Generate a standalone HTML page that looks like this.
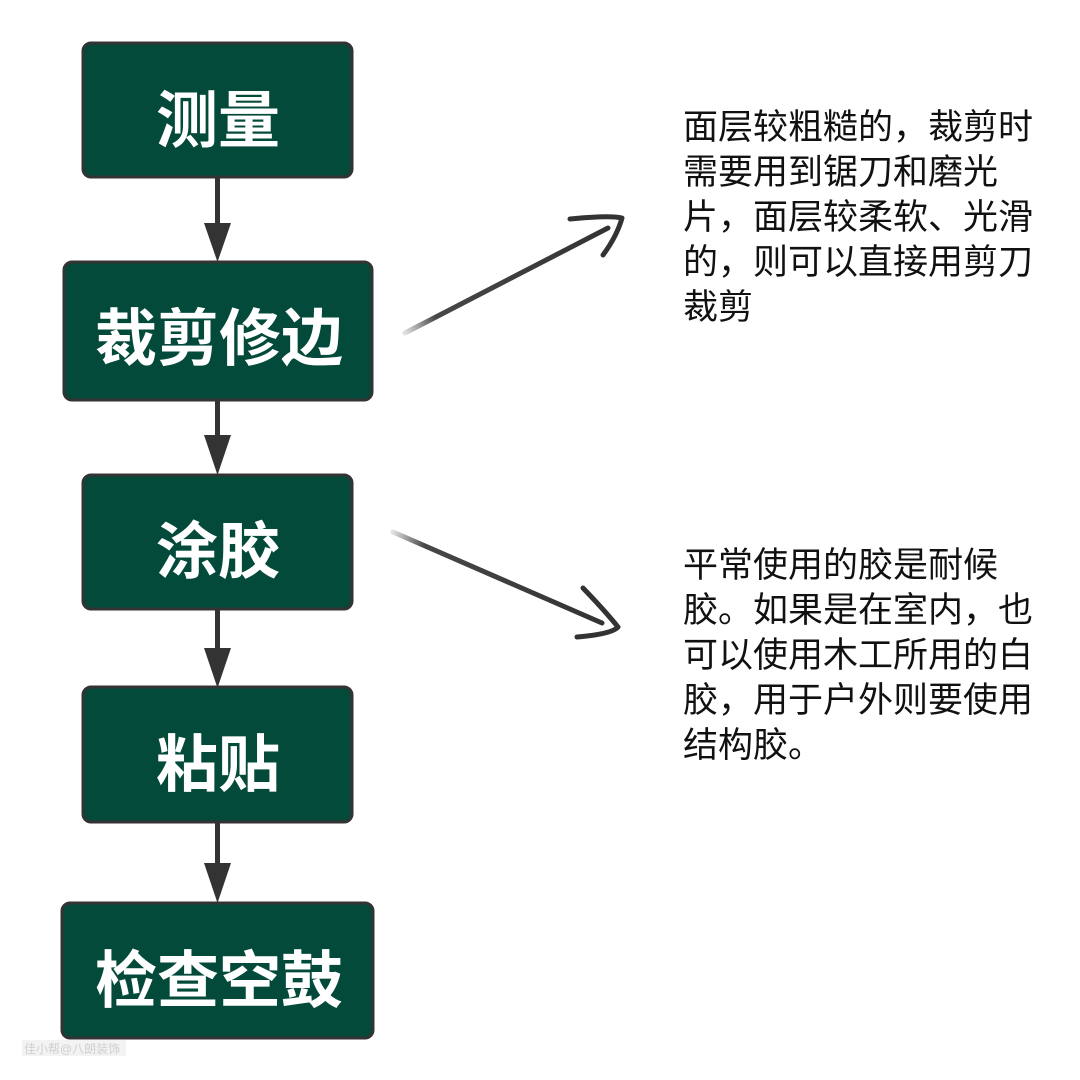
<!DOCTYPE html>
<html>
<head>
<meta charset="utf-8">
<style>
  html,body{margin:0;padding:0;background:#fff;}
  body{width:1080px;height:1080px;overflow:hidden;}
  svg{display:block;}
  .bx{fill:#034a3b;stroke:#333;stroke-width:3;}
  .bt{font-family:"Liberation Sans","Noto Sans CJK SC",sans-serif;font-weight:bold;font-size:62px;fill:#fff;text-anchor:middle;}
  .nt{font-family:"Liberation Sans","Noto Sans CJK SC",sans-serif;font-size:35px;fill:#111;}
</style>
</head>
<body>
<svg width="1080" height="1080" viewBox="0 0 1080 1080" xmlns="http://www.w3.org/2000/svg">
  <defs>
    <linearGradient id="g1" gradientUnits="userSpaceOnUse" x1="405" y1="333" x2="608" y2="228">
      <stop offset="0" stop-color="#333" stop-opacity="0.15"/>
      <stop offset="0.15" stop-color="#333" stop-opacity="0.9"/>
      <stop offset="1" stop-color="#333" stop-opacity="1"/>
    </linearGradient>
    <linearGradient id="g2" gradientUnits="userSpaceOnUse" x1="393" y1="532" x2="602" y2="623">
      <stop offset="0" stop-color="#333" stop-opacity="0.15"/>
      <stop offset="0.15" stop-color="#333" stop-opacity="0.9"/>
      <stop offset="1" stop-color="#333" stop-opacity="1"/>
    </linearGradient>
  </defs>

  <!-- vertical connectors -->
  <g stroke="#333" stroke-width="5">
    <line x1="217.5" y1="177" x2="217.5" y2="226"/>
    <line x1="217.5" y1="400" x2="217.5" y2="438"/>
    <line x1="217.5" y1="609" x2="217.5" y2="651"/>
    <line x1="217.5" y1="822" x2="217.5" y2="866"/>
  </g>
  <g fill="#333">
    <polygon points="204,223 231,223 217.5,262"/>
    <polygon points="204,435 231,435 217.5,475"/>
    <polygon points="204,648 231,648 217.5,688"/>
    <polygon points="204,863 231,863 217.5,903"/>
  </g>

  <!-- boxes -->
  <rect class="bx" x="83" y="43" width="269" height="134" rx="8"/>
  <rect class="bx" x="64" y="262" width="308" height="138" rx="8"/>
  <rect class="bx" x="83" y="475" width="269" height="134" rx="8"/>
  <rect class="bx" x="83" y="687" width="269" height="135" rx="8"/>
  <rect class="bx" x="62" y="903" width="311" height="135" rx="8"/>

  <text class="bt" x="218" y="142">测量</text>
  <text class="bt" x="219" y="360">裁剪修边</text>
  <text class="bt" x="218" y="573">涂胶</text>
  <text class="bt" x="218" y="786">粘贴</text>
  <text class="bt" x="219" y="1002">检查空鼓</text>

  <!-- diagonal hand-drawn arrows -->
  <line x1="405" y1="333" x2="608" y2="228" stroke="url(#g1)" stroke-width="5" stroke-linecap="round"/>
  <path d="M570,219 Q610,215 622,218 Q617,236 603,255" fill="none" stroke="#333" stroke-width="5" stroke-linecap="round" stroke-linejoin="round"/>

  <line x1="393" y1="532" x2="602" y2="623" stroke="url(#g2)" stroke-width="5" stroke-linecap="round"/>
  <path d="M583,588 Q606,612 618,627 Q612,634 577,637" fill="none" stroke="#333" stroke-width="5" stroke-linecap="round" stroke-linejoin="round"/>

  <!-- notes -->
  <text class="nt" x="683" y="139">面层较粗糙的，裁剪时</text>
  <text class="nt" x="683" y="184">需要用到锯刀和磨光</text>
  <text class="nt" x="683" y="229">片，面层较柔软、光滑</text>
  <text class="nt" x="683" y="274">的，则可以直接用剪刀</text>
  <text class="nt" x="683" y="319">裁剪</text>

  <text class="nt" x="683" y="577">平常使用的胶是耐候</text>
  <text class="nt" x="683" y="622">胶。如果是在室内，也</text>
  <text class="nt" x="683" y="667">可以使用木工所用的白</text>
  <text class="nt" x="683" y="712">胶，用于户外则要使用</text>
  <text class="nt" x="683" y="757">结构胶。</text>

  <!-- watermark -->
  <rect x="22" y="1040" width="104" height="16" fill="#f3f3f3"/>
  <text x="24" y="1053" font-family="Liberation Sans, Noto Sans CJK SC, sans-serif" font-size="12" fill="#cfcfcf">佳小帮@八朗装饰</text>
</svg>
</body>
</html>
